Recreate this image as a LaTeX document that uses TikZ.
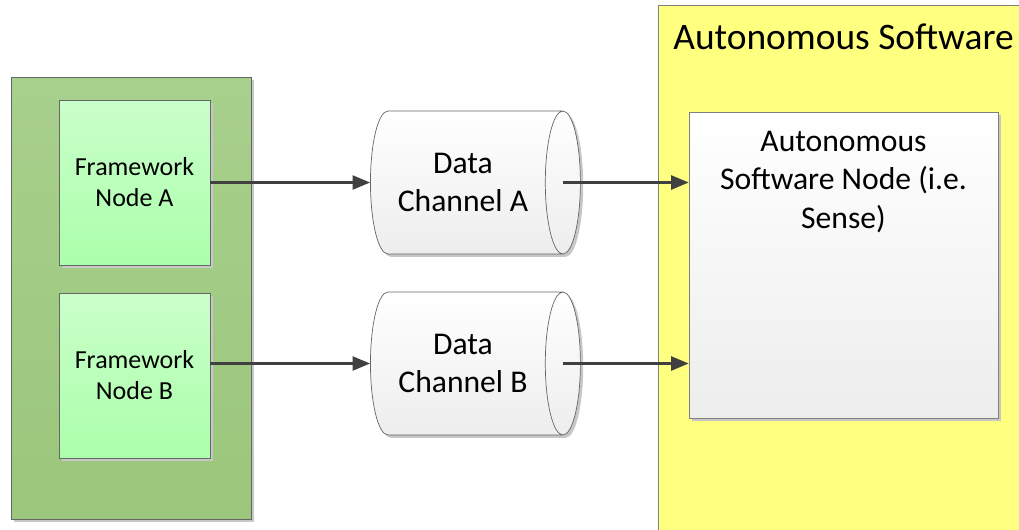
\documentclass[tikz,border=0pt]{standalone}
\usepackage{fontspec}
\setmainfont{Carlito}
\usetikzlibrary{shapes.geometric}
\usetikzlibrary{shadows}
\usetikzlibrary{positioning}
\usetikzlibrary{arrows.meta,calc}
\definecolor{groupgreen}{HTML}{A8D08D}
\definecolor{groupgreendark}{HTML}{9BC67B}
\definecolor{nodegreen}{HTML}{CAFFCA}
\definecolor{nodegreendark}{HTML}{ABFFAB}
\definecolor{swyellow}{HTML}{FFFF80}
\definecolor{linegray}{HTML}{404040}
\tikzstyle{softshadow}=[drop shadow={shadow xshift=1.6pt,shadow yshift=-1.6pt,fill=black!22,opacity=1}]
\tikzstyle{group}=[rectangle,draw=black!60,top color=groupgreen,bottom color=groupgreendark,minimum width=4.8cm,minimum height=8.84cm,softshadow]
\tikzstyle{fwnode}=[rectangle,draw=black!60,top color=nodegreen,bottom color=nodegreendark,minimum width=3.02cm,minimum height=3.3cm,align=center,font=\fontsize{14.8}{17.6}\selectfont,softshadow]
\tikzstyle{channel}=[cylinder,draw=black!60,top color=white,bottom color=black!7,minimum width=2.86cm,minimum height=4.2cm,aspect=0.5,align=center,font=\fontsize{18}{21.6}\selectfont,softshadow]
\tikzstyle{swgroup}=[rectangle,draw=black!50,fill=swyellow,minimum width=7.44cm,minimum height=10.7cm]
\tikzstyle{swnode}=[rectangle,draw=black!50,top color=white,bottom color=black!7,minimum width=6.18cm,minimum height=6.12cm,softshadow]
\tikzstyle{flow}=[draw=linegray,line width=1.3pt,-{Triangle[length=10pt,width=8pt]}]

\begin{document}
\begin{tikzpicture}[x=0.02cm,y=-0.02cm]
  \useasboundingbox (0,0) rectangle (1019,529);
  \clip (0,0) rectangle (1019,529);

  % framework side
  \node[group] (fwGroup) at (131,298) {};
  \foreach \y/\name/\label in {182.5/fwA/A, 375.5/fwB/B}
     \node[fwnode] (\name) at (134.5,\y) {Framework\\Node \label};

  % autonomous software side
  \node[swgroup] (swGroup) at (844,272.5) {};
  \node[anchor=west,inner sep=0pt,font=\fontsize{21.3}{25}\selectfont] (swTitle) at (673,37) {Autonomous Software};
  \node[swnode,label={[anchor=north,align=center,font=\fontsize{18}{21.9}\selectfont,yshift=-7.5pt]north:Autonomous\\Software Node (i.e.\\Sense)}] (swNode) at (843.5,265) {};

  % data channels
  \foreach \y/\name/\label in {182.5/chA/A, 363.5/chB/B}
     \node[channel] (\name) at (463,\y) {Data\\Channel \label};

  \foreach \source/\dest in {fwA/chA, fwB/chB}
     \draw[flow] (\source.east |- \dest.west) -- (\dest.west);
  \foreach \source in {chA, chB}
     \draw[flow] (\source.before top |- \source.west) -- (swNode.west |- \source.west);
\end{tikzpicture}
\end{document}
